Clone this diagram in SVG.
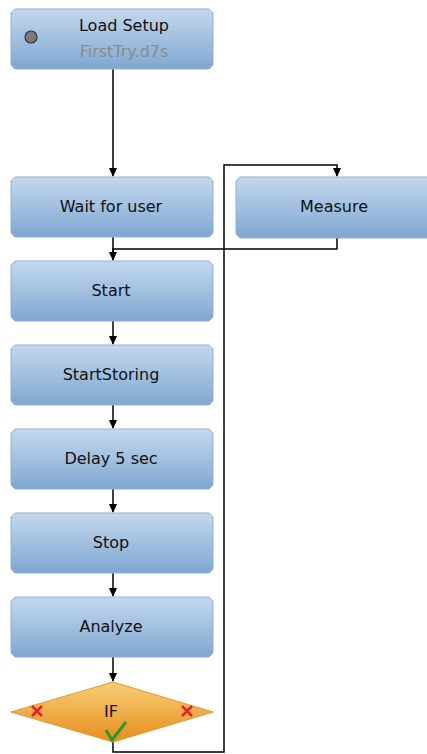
<svg xmlns="http://www.w3.org/2000/svg" width="427" height="754" viewBox="0 0 427 754">
<defs>
<linearGradient id="gb" x1="0" y1="0" x2="0" y2="1">
<stop offset="0" stop-color="#c4d8ee"/>
<stop offset="1" stop-color="#7fa7d1"/>
</linearGradient>
<linearGradient id="go" x1="0" y1="0" x2="0" y2="1">
<stop offset="0" stop-color="#f6cf78"/>
<stop offset="1" stop-color="#e88c1c"/>
</linearGradient>
</defs>
<style>
.box{fill:url(#gb);stroke:#8fb1d6;stroke-width:1}
.t{font-family:"DejaVu Sans",sans-serif;font-size:16px;fill:#111;text-anchor:middle}
.c{fill:none;stroke:#000;stroke-width:1.5}
</style>
<g id="connectors">
<path class="c" d="M113,69 V176"/>
<path class="c" d="M113,237 V260"/>
<path class="c" d="M337,238 V249 H113 V260" />
<path class="c" d="M113,742 V752 H224 V165 H337 V176"/>
<path class="c" d="M113,321 V344"/>
<path class="c" d="M113,405 V428"/>
<path class="c" d="M113,489 V512"/>
<path class="c" d="M113,573 V596"/>
<path class="c" d="M113,657 V681"/>
<g fill="#000">
<path d="M109,168 L117,168 L113,177 Z"/>
<path d="M333,168 L341,168 L337,177 Z"/>
<path d="M109,252 L117,252 L113,261 Z"/>
<path d="M109,336 L117,336 L113,345 Z"/>
<path d="M109,420 L117,420 L113,429 Z"/>
<path d="M109,504 L117,504 L113,513 Z"/>
<path d="M109,588 L117,588 L113,597 Z"/>
<path d="M109,673 L117,673 L113,682 Z"/>
</g>
</g>
<g id="load-setup">
<path class="box" d="M15,9 H209 L213,13 V65 L209,69 H15 L11,65 V13 Z"/>
<circle cx="31" cy="37" r="6" fill="#7a7a7a" stroke="#333" stroke-width="1.2"/>
<text class="t" x="124" y="31">Load Setup</text>
<text class="t" x="124" y="57" style="fill:#8a8a8a">FirstTry.d7s</text>
</g>
<g id="wait-for-user">
<path class="box" d="M15,177 H209 L213,181 V233 L209,237 H15 L11,233 V181 Z"/>
<text class="t" x="111" y="212">Wait for user</text>
</g>
<g id="measure">
<path class="box" d="M240,177 H432 V238 H240 L236,234 V181 Z"/>
<text class="t" x="334" y="212">Measure</text>
</g>
<g id="start">
<path class="box" d="M15,261 H209 L213,265 V317 L209,321 H15 L11,317 V265 Z"/>
<text class="t" x="111" y="296">Start</text>
</g>
<g id="startstoring">
<path class="box" d="M15,345 H209 L213,349 V401 L209,405 H15 L11,401 V349 Z"/>
<text class="t" x="111" y="380">StartStoring</text>
</g>
<g id="delay">
<path class="box" d="M15,429 H209 L213,433 V485 L209,489 H15 L11,485 V433 Z"/>
<text class="t" x="111" y="464">Delay 5 sec</text>
</g>
<g id="stop">
<path class="box" d="M15,513 H209 L213,517 V569 L209,573 H15 L11,569 V517 Z"/>
<text class="t" x="111" y="548">Stop</text>
</g>
<g id="analyze">
<path class="box" d="M15,597 H209 L213,601 V653 L209,657 H15 L11,653 V601 Z"/>
<text class="t" x="111" y="632">Analyze</text>
</g>
<g id="if">
<path d="M113,682 L213,712 L113,742 L11,712 Z" fill="url(#go)" stroke="#e9962a" stroke-width="1"/>
<text class="t" x="111" y="717">IF</text>
<path d="M32,706 L42,716 M42,706 L32,716" stroke="#e8202a" stroke-width="2.5"/>
<path d="M182,706 L192,716 M192,706 L182,716" stroke="#e8202a" stroke-width="2.5"/>
<path d="M106,730 L112,740 L126,722" fill="none" stroke="#2a9a2a" stroke-width="3"/>
</g>
</svg>
